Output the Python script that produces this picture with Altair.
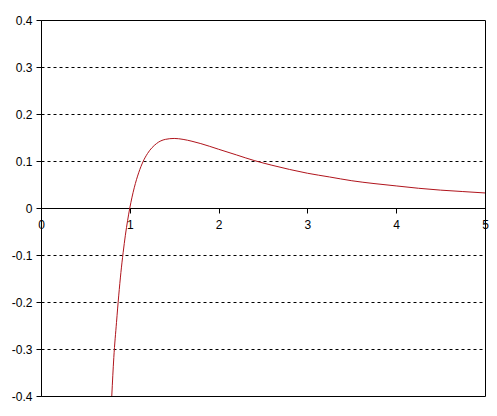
import altair as alt
import pandas as pd

# values
xs = [0.797, 0.82, 0.85, 0.875, 0.9, 0.925, 0.95, 0.975, 1.0, 1.05, 1.1, 1.15, 1.2, 1.3, 1.4, 1.5, 1.6, 1.7,
      1.8, 2.0, 2.2, 2.4, 2.6, 2.8, 3.0, 3.25, 3.5, 3.75, 4.0, 4.25, 4.5, 4.75, 5.0]
ys = [-0.400, -0.318, -0.244, -0.187, -0.137, -0.095, -0.058, -0.027, 0.000, 0.043, 0.075, 0.099, 0.116,
      0.137, 0.146, 0.148, 0.146, 0.142, 0.137, 0.125, 0.113, 0.101, 0.091, 0.082, 0.074, 0.066, 0.058,
      0.052, 0.047, 0.042, 0.038, 0.035, 0.032]
x_ticks = [0, 1, 2, 3, 4, 5]
y_ticks = [-0.4, -0.3, -0.2, -0.1, 0, 0.1, 0.2, 0.3, 0.4]

df = pd.DataFrame({"x": xs, "y": ys})

FONT = "Liberation Sans"

chart = alt.Chart(df).mark_line(color="#b0141c", strokeWidth=1, clip=True, interpolate="monotone").encode(
    x=alt.X("x:Q", scale=alt.Scale(domain=[0, 5], nice=False, zero=False),
            axis=alt.Axis(values=x_ticks, title=None, grid=False, offset=-188,
                          domainColor="black", domainWidth=1, tickColor="black", tickSize=5,
                          labelFont=FONT, labelFontSize=12, labelColor="black", labelPadding=6,
                          labelFlush=False, labelOverlap=False)),
    y=alt.Y("y:Q", scale=alt.Scale(domain=[-0.4, 0.4], nice=False, zero=False),
            axis=alt.Axis(values=y_ticks, title=None, grid=True, gridColor="black", gridDash=[3, 3],
                          gridWidth=1, domain=False, tickColor="black", tickSize=5,
                          labelFont=FONT, labelFontSize=12, labelColor="black", labelPadding=4,
                          labelFlush=False, labelOverlap=False,
                          labelExpr="datum.value == 0 ? '0' : toString(round(datum.value*10)/10)")),
).properties(
    width=444, height=376,
    autosize=alt.AutoSizeParams(type="none"),
    padding={"left": 33, "top": 12, "right": 4, "bottom": 16},
).configure_view(stroke="black", strokeWidth=1)

chart.save("out.html", embed_options={"renderer": "svg", "actions": False})
